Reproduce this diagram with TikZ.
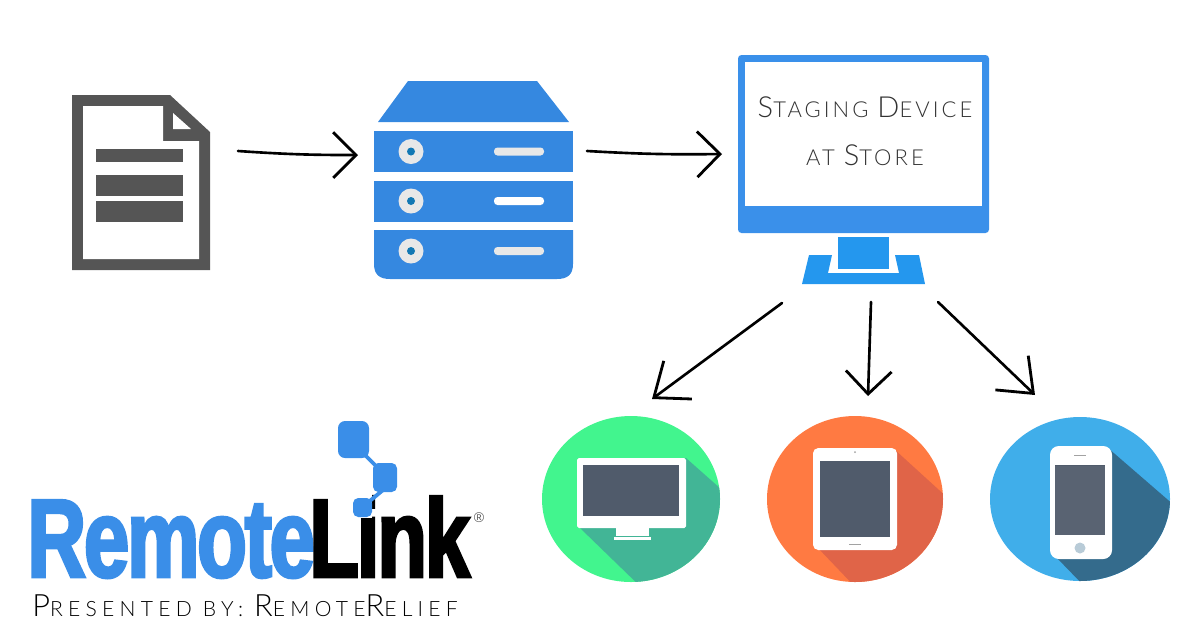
\documentclass[tikz,border=0pt]{standalone}
\usepackage{fontspec}
\usetikzlibrary{arrows.meta}
\newfontfamily\thinfont[LetterSpace=14]{Lato Light}
\newfontfamily\bylinefont[LetterSpace=25]{Lato Light}
\newfontfamily\logofont[FakeStretch=.73,LetterSpace=-2,FakeBold=2.5]{Liberation Sans Bold}
\newfontfamily\markfont{Liberation Sans}
\newcommand{\capS}[1]{{\fontsize{16.5}{20}\selectfont #1}}
\newcommand{\capP}[1]{{\fontsize{17.5}{20}\selectfont #1}}
\definecolor{serverblue}{HTML}{3588E0}
\definecolor{screenblue}{HTML}{3A90EA}
\definecolor{standblue}{HTML}{2497EE}
\definecolor{docgrey}{HTML}{555555}
\definecolor{discgrey}{HTML}{E8E8E8}
\definecolor{discdot}{HTML}{1278B4}
\definecolor{logoblue}{HTML}{3A8EE8}
\definecolor{slate}{HTML}{505B6B}
\definecolor{greenround}{HTML}{42F58E}
\definecolor{greenshade}{HTML}{42B596}
\definecolor{orangeround}{HTML}{FF7A42}
\definecolor{orangeshade}{HTML}{E06448}
\definecolor{blueround}{HTML}{40AEEA}
\definecolor{blueshade}{HTML}{346B8C}
\begin{document}
\begin{tikzpicture}[
	                      x = 0.02cm,
	                      y = -0.02cm,
	       sketch/.style = {line width=1.5pt, line cap=round, black},
	     longhead/.style = {sketch, -{Straight Barb[length=17pt, width=27pt, line width=1.6pt]}},
	    shorthead/.style = {sketch, -{Straight Barb[length=13pt, width=26pt, line width=1.6pt]}},
	    staginglabel/.style = {font=\thinfont\fontsize{12.5}{16}\selectfont, text=black!80, inner sep=0pt, anchor=base},
	     logolabel/.style = {font=\logofont\fontsize{63.5}{70}\selectfont, inner sep=0pt, anchor=base west},
	                     ]
	\useasboundingbox (0,0) rectangle (1200,630);
	% document
	\fill[docgrey] (72,95) -- (170,95) -- (210,132) -- (210,270) -- (72,270) -- cycle;
	\fill[white] (83,106) -- (163,106) -- (163,141) -- (199,141) -- (199,259) -- (83,259) -- cycle;
	\fill[white] (173,113) -- (173,129) -- (191,129) -- cycle;
	\fill[docgrey] (96,149) rectangle (183,162);
	\fill[docgrey] (96,175) rectangle (183,196);
	\fill[docgrey] (96,201) rectangle (183,222);
	% server
	\fill[serverblue] (408,81) -- (537,81) -- (569,122) -- (378,122) -- cycle;
	\fill[serverblue] (374,131) rectangle (573,172);
	\fill[serverblue] (374,181) rectangle (573,222);
	\fill[serverblue] (374,230) -- (374,264) .. controls (374,275) and (380,279) .. (390,279) -- (557,279) .. controls (567,279) and (573,275) .. (573,264) -- (573,230) -- cycle;
	\fill[discgrey] (411,151.5) circle [radius=12.5];
	\fill[discgrey] (411,201) circle [radius=12.5];
	\fill[discgrey] (411,251) circle [radius=12.5];
	\fill[discdot] (411,151.5) circle [radius=4];
	\fill[discdot] (411,201) circle [radius=4];
	\fill[discdot] (411,251) circle [radius=4];
	\fill[discgrey, rounded corners=2pt] (494,147.5) rectangle (544,155.5);
	\fill[white, rounded corners=2pt] (494,197) rectangle (544,205);
	\fill[discgrey, rounded corners=2pt] (494,247) rectangle (544,255);
	% staging monitor
	\fill[screenblue, rounded corners=2pt] (738,55) rectangle (989,233);
	\fill[white] (745,62) rectangle (982,206);
	\fill[standblue] (838,237) rectangle (889,269);
	\fill[standblue] (809,255) -- (832,255) -- (828,273) -- (899,273) -- (895,255) -- (919,255) -- (925,284) -- (802,284) -- cycle;
	\node[staginglabel] (staging) at (865,117) {\capS{S}TAGING \capS{D}EVICE};
	\node[staginglabel] (store) at (865,165) {AT \capS{S}TORE};
	% green round
	\begin{scope}
		\clip (631,499) ellipse [x radius=89, y radius=83];
		\fill[greenround] (531,406) rectangle (731,592);
		\fill[greenshade] (686,458) -- (730,497) -- (730,592) -- (646,592) -- (580,528) -- cycle;
	\end{scope}
	\fill[white, rounded corners=1pt] (577,458) rectangle (686,528);
	\fill[slate] (583,465) rectangle (679,516);
	\fill[white] (616,528) rectangle (649,536);
	\fill[white] (614,537) rectangle (651,540);
	% orange round
	\begin{scope}
		\clip (855,499) ellipse [x radius=88, y radius=83];
		\fill[orangeround] (760,406) rectangle (950,592);
		\fill[orangeshade] (894,449) -- (950,500) -- (950,592) -- (860,592) -- (818,548) -- cycle;
	\end{scope}
	\fill[white, rounded corners=3pt] (813,448) rectangle (897,550);
	\fill[slate] (820,461) rectangle (890,537);
	\fill[discgrey!70!black] (855,452) circle [radius=1];
	\fill[discgrey!70!black] (849,543.5) rectangle (861,544.5);
	% blue round
	\begin{scope}
		\clip (1080,499) ellipse [x radius=90, y radius=82];
		\fill[blueround] (985,410) rectangle (1175,590);
		\fill[blueshade] (1108,448) -- (1175,506) -- (1175,590) -- (1088,590) -- (1056,557) -- cycle;
	\end{scope}
	\fill[white, rounded corners=5pt] (1050,446) rectangle (1112,559);
	\fill[slate!95!white] (1055,466) rectangle (1105,535);
	\fill[slate] (1055,464.5) rectangle (1105,465.2);
	\fill[discgrey!70!black] (1074,455) rectangle (1086,456);
	\fill[blueshade!35!white] (1080,548) circle [radius=5.5];
	% logo
	\node[logolabel, text=logoblue] (remote) at (27,577) {Remote};
	\node[logolabel, text=black] (link) at (309,577) {Link};
	\fill[white] (347,490) rectangle (372,518);
	\fill[logoblue, rounded corners=4pt] (338,421) rectangle (369,458);
	\fill[logoblue, rounded corners=3pt] (373,463) rectangle (397,492);
	\fill[logoblue, rounded corners=3pt] (353,498) rectangle (372,517);
	\draw[logoblue, line width=2.2pt] (365,455) -- (378,468);
	\draw[logoblue, line width=2.2pt] (383,490) -- (365,505);
	\node[font=\markfont\fontsize{8}{9}\selectfont, text=black!65, inner sep=0pt] (mark) at (479,518) {®};
	\node[font=\bylinefont\fontsize{12}{14}\selectfont, text=black, inner sep=0pt, anchor=base west] (presented) at (32,616) {\capP{P}RESENTED BY: \capP{R}EMOTE\capP{R}ELIEF};
	% connectors
	\coordinate (doc out) at (238,151);
	\coordinate (server in) at (358,155);
	\coordinate (server out) at (587,151);
	\coordinate (staging in) at (722,154);
	\coordinate (stand left) at (782,303);
	\coordinate (stand mid) at (871,302);
	\coordinate (stand right) at (938,302);
	\coordinate (green top) at (652,399);
	\coordinate (orange top) at (868,396);
	\coordinate (blue top) at (1035,395);
	\draw[shorthead] (doc out) to[bend right=2] (server in);
	\draw[shorthead] (server out) to[bend right=2] (staging in);
	\draw[longhead] (stand left) -- (green top);
	\draw[shorthead] (stand mid) -- (orange top);
	\draw[longhead] (stand right) -- (blue top);
\end{tikzpicture}
\end{document}
